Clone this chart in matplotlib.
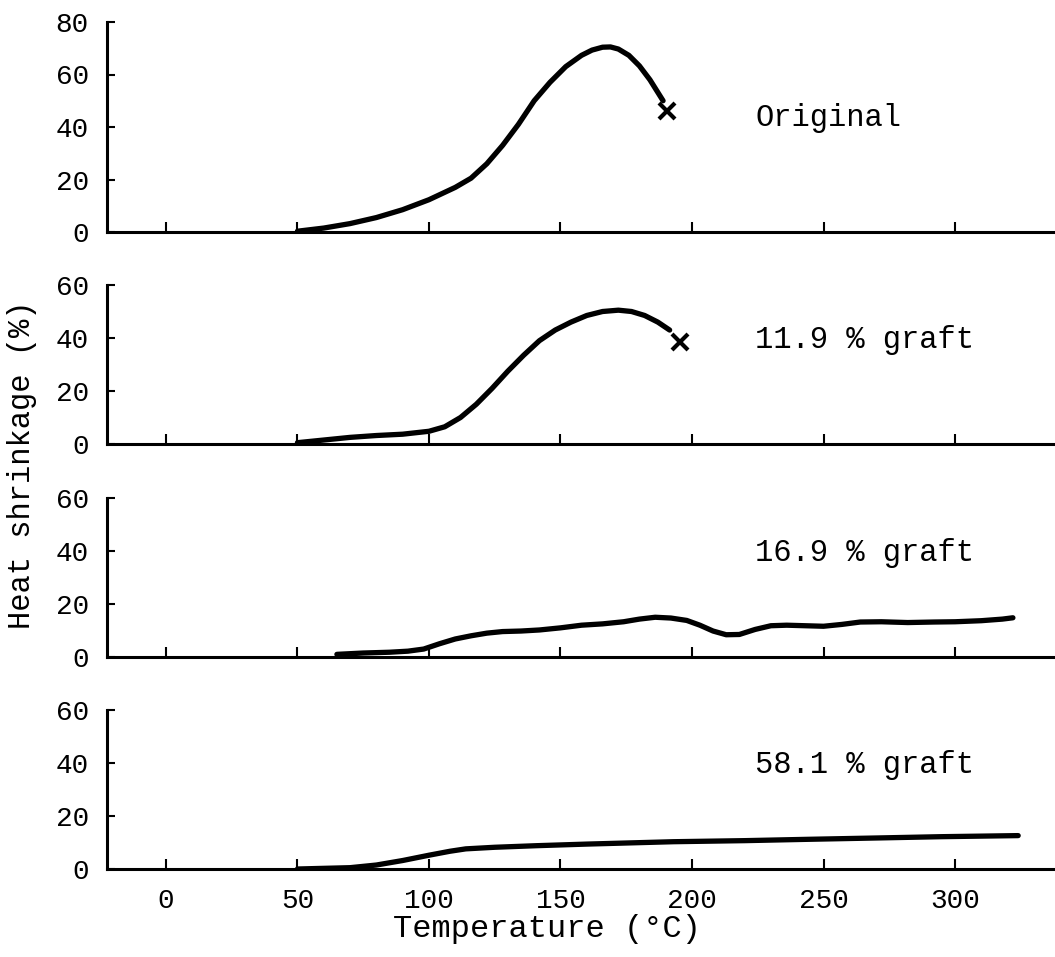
import matplotlib
matplotlib.use("Agg")
import matplotlib.pyplot as plt

plt.rcParams['font.family'] = ['Liberation Mono', 'DejaVu Sans Mono']

# ---- data ----
orig_T = [50, 60, 70, 80, 90, 100, 110, 116, 122, 128, 134, 140, 146, 152, 158, 162, 166, 169, 172, 176, 180, 184, 189]
orig_y = [0.3, 1.5, 3.2, 5.5, 8.5, 12.3, 17, 20.5, 26, 33, 41, 50, 57, 63, 67.3, 69.3, 70.4, 70.5, 69.7, 67.3, 63.3, 58, 50]
orig_end = (190.5, 46)

g119_T = [50, 60, 70, 80, 90, 100, 106, 112, 118, 124, 130, 136, 142, 148, 154, 160, 166, 172, 177, 182, 187, 191.5]
g119_y = [0.5, 1.5, 2.5, 3.2, 3.7, 4.8, 6.5, 10, 15, 21, 27.5, 33.5, 39, 43, 46, 48.5, 50, 50.5, 50, 48.5, 46, 43]
g119_end = (195.5, 38.5)

g169_T = [65, 75, 85, 92, 98, 104, 110, 116, 122, 128, 135, 142, 150, 158, 166, 174, 180, 186, 192, 198,
          203, 208, 213, 218, 224, 230, 236, 243, 250, 257, 264, 272, 282, 292, 300, 310, 318, 322]
g169_y = [1, 1.5, 1.8, 2.2, 3, 5, 6.8, 8, 9, 9.6, 9.8, 10.2, 11, 12, 12.5, 13.3, 14.3, 15, 14.7, 13.8,
          12, 9.8, 8.4, 8.5, 10.4, 11.8, 12, 11.8, 11.6, 12.3, 13.2, 13.3, 13, 13.2, 13.3, 13.7, 14.3, 14.8]

g581_T = [50, 70, 80, 90, 100, 108, 114, 125, 141, 160, 193, 220, 244, 270, 295, 324]
g581_y = [0, 0.5, 1.5, 3.2, 5.2, 6.7, 7.6, 8.2, 8.8, 9.4, 10.3, 10.7, 11.2, 11.7, 12.2, 12.6]

labels = ["Original", "11.9 % graft", "16.9 % graft", "58.1 % graft"]
ymaxes = [80, 60, 60, 60]
xticks = [0, 50, 100, 150, 200, 250, 300]
x_range = (-22.4, 338)

series = [(orig_T, orig_y, orig_end), (g119_T, g119_y, g119_end),
          (g169_T, g169_y, None), (g581_T, g581_y, None)]

W, H = 1055, 957
fig = plt.figure(figsize=(W / 100, H / 100), dpi=100)

# pixel positions of panels (y top = ymax, y bottom = 0)
panels_px = [(22, 232), (285, 444), (498, 657), (710, 869)]
left_px = 107

for i, ((top, bot), (T, y, end), lab, ymax) in enumerate(zip(panels_px, series, labels, ymaxes)):
    ax = fig.add_axes([left_px / W, 1 - bot / H, 1 - left_px / W, (bot - top) / H])
    ax.plot(T, y, color='black', lw=3.8, solid_capstyle='round', solid_joinstyle='round')
    if end is not None:
        ax.plot([end[0]], [end[1]], marker='x', color='black', ms=11, mew=3)
    ax.set_xlim(*x_range)
    ax.set_ylim(0, ymax)
    ax.set_yticks(list(range(0, ymax + 1, 20)))
    ax.set_xticks(xticks)
    for s in ['top', 'right']:
        ax.spines[s].set_visible(False)
    for s in ['left', 'bottom']:
        ax.spines[s].set_linewidth(2.2)
    ax.tick_params(axis='y', direction='in', length=6, width=1.5, labelsize=20, pad=13)
    ax.tick_params(axis='x', direction='in', length=7, width=1.5, labelsize=20, pad=14)
    if i < 3:
        ax.tick_params(axis='x', labelbottom=False)
    ax.text(224, 43.4 if i == 0 else 39.3, lab, fontsize=22, va='center', ha='left')
    ax.patch.set_alpha(0)

fig.text(547 / W, 1 - 929 / H, "Temperature (°C)", fontsize=23, va='center', ha='center')
fig.text(22 / W, 1 - 465 / H, "Heat shrinkage (%)", rotation=90, fontsize=22,
         va='center', ha='center')

fig.savefig("out.png", dpi=100, facecolor='white')
